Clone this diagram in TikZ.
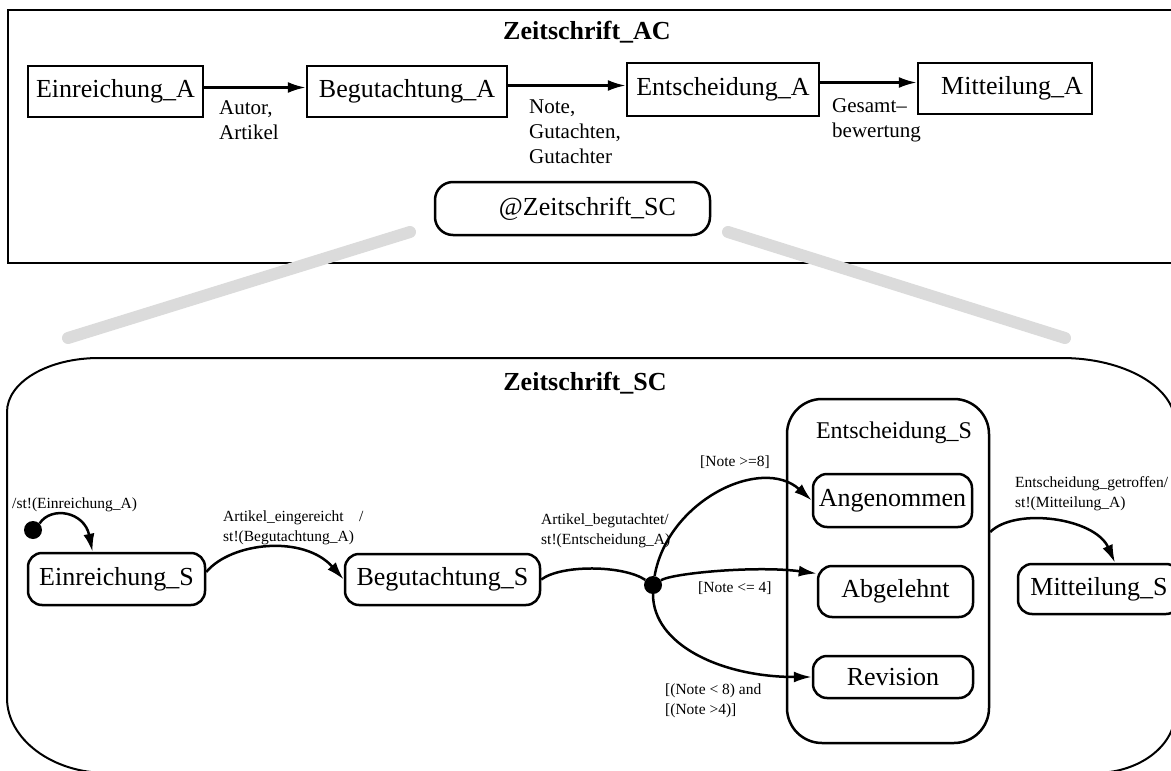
\documentclass[tikz,border=0pt]{standalone}
\usepackage{fontspec}
\setmainfont{Liberation Serif}
\usetikzlibrary{arrows.meta, positioning}
\newcommand{\nodesize}{\fontsize{26}{30}\selectfont}
\newcommand{\subsize}{\fontsize{24}{28}\selectfont}
\newcommand{\datasize}{\fontsize{21}{25}\selectfont}
\newcommand{\guardsize}{\fontsize{15.5}{19.5}\selectfont}

\begin{document}
\begin{tikzpicture}[x=1pt, y=-1pt,
  abox/.style={draw, line width=2.5pt, font=\nodesize, inner sep=0pt},
  sbox/.style={abox, rounded corners=14pt},
  ttl/.style={font=\nodesize\bfseries, inner sep=0pt},
  dlbl/.style={font=\datasize, inner sep=0pt, align=left},
  glbl/.style={font=\guardsize, inner sep=0pt, align=left},
  dot/.style={circle, fill, inner sep=0pt, minimum size=18pt},
  flow/.style={-{Latex[length=18pt, width=11pt]}, line width=2.5pt},
  plain/.style={line width=2.5pt},
  zoomline/.style={line width=12pt, black!14, line cap=round}
]
  \useasboundingbox (0,0) rectangle (1171,771);

  % activity chart
  \draw[line width=2.6pt] (8,10) rectangle (1180,263);
  \node[ttl] (titleAC) at (587,32) {Zeitschrift\_AC};

  \node[abox, minimum width=175pt, minimum height=51pt] (EinA) at (115.5,91.5) {Einreichung\_A};
  \node[abox, minimum width=200pt, minimum height=51pt] (BegA) at (407,91.5) {Begutachtung\_A};
  \node[abox, minimum width=192pt, minimum height=53pt] (EntA) at (723,89.5) {Entscheidung\_A};
  \node[abox, minimum width=174pt, minimum height=51pt] (MitA) at (1005,88.5) {\hspace*{14pt}Mitteilung\_A};

  \draw[flow] ([yshift=4pt]EinA.east) -- ([yshift=4pt]BegA.west);
  \draw[flow] ([yshift=6pt]BegA.east) -- ([yshift=4pt]EntA.west);
  \draw[flow] ([yshift=7pt]EntA.east) -- ([yshift=6pt]MitA.west);

  \node[dlbl, anchor=west] (dAutor) at (219,120.5) {Autor,\\Artikel};
  \node[dlbl, anchor=west] (dNote)  at (529,132) {Note,\\Gutachten,\\Gutachter};
  \node[dlbl, anchor=west] (dGes)   at (832,120) {Gesamt--\\bewertung};

  \node[sbox, minimum width=275pt, minimum height=53pt, rounded corners=18pt] (ZSC)
        at (572.5,208.5) {\hspace*{30pt}@Zeitschrift\_SC};

  % zoom lines
  \coordinate (zl1) at (410,232);
  \coordinate (zl2) at (68,338);
  \coordinate (zr1) at (728,232);
  \coordinate (zr2) at (1065,338);
  \draw[zoomline] (zl1) -- (zl2);
  \draw[zoomline] (zr1) -- (zr2);

  % statechart
  \draw[line width=2pt] (7,412) .. controls (7,382) and (48,358) .. (99,358)
        -- (1062,358) .. controls (1124,358) and (1175,387) .. (1175,423)
        -- (1175,713) .. controls (1175,746) and (1139,773) .. (1095,773)
        -- (107,773) .. controls (52,773) and (7,739) .. (7,698) -- cycle;
  \node[ttl] (titleSC) at (585,383) {Zeitschrift\_SC};

  \node[dot] (init) at (33,530) {};
  \node[sbox, minimum width=177pt, minimum height=52pt] (EinS) at (116.5,579) {Einreichung\_S};
  \node[sbox, minimum width=195pt, minimum height=51pt] (BegS) at (442.5,579.5) {Begutachtung\_S};
  \node[dot] (choice) at (653,585) {};

  \node[sbox, minimum width=202pt, minimum height=344pt, rounded corners=35pt] (EntS) at (888,571) {};
  \node[font=\subsize, inner sep=0pt] (EntSt) at (894,433) {Entscheidung\_S};
  \node[sbox, minimum width=159pt, minimum height=53pt] (Ang) at (892.5,500.5) {Angenommen};
  \node[sbox, minimum width=155pt, minimum height=51pt] (Abg) at (895.5,591.5) {Abgelehnt};
  \node[sbox, minimum width=160pt, minimum height=42pt] (Rev) at (893,677) {Revision};
  \node[sbox, minimum width=162pt, minimum height=50pt] (MitS) at (1099,589) {Mitteilung\_S};

  \draw[flow] (init.north east) .. controls +(12,-18) and +(-8,-40) .. ([xshift=-24pt]EinS.north);
  \draw[flow] ([yshift=7pt]EinS.east) .. controls +(25,-30) and +(-40,-45) .. (BegS.west);
  \draw[plain] (BegS.east) .. controls +(20,-15) and +(-30,-20) .. (choice);
  \draw[flow] (choice) .. controls +(15,-85) and +(-50,-45) .. (Ang.west);
  \draw[flow] (choice) .. controls +(20,-12) and +(-60,-8) .. ([yshift=18pt]Abg.west);
  \draw[flow] (choice) .. controls +(0,60) and +(-90,0) .. (Rev.west);
  \draw[flow] ([yshift=39pt]EntS.east) .. controls +(25,-25) and +(-20,-45) .. ([xshift=16pt]MitS.north);

  \node[glbl, anchor=west] (gInit) at (12,505) {/st!(Einreichung\_A)};
  \node[glbl, anchor=west] (gEin)  at (223,528) {Artikel\_eingereicht\quad/\\st!(Begutachtung\_A)};
  \node[glbl, anchor=west] (gBeg)  at (541,531) {Artikel\_begutachtet/\\st!(Entscheidung\_A)};
  \node[glbl, anchor=west] (gAng)  at (700,462) {[Note >=8]};
  \node[glbl, anchor=west] (gAbg)  at (698,588) {[Note <= 4]};
  \node[glbl, anchor=west] (gRev)  at (665,701) {[(Note < 8) and\\{}[(Note >4)]};
  \node[glbl, anchor=west] (gEnt)  at (1015,493.5) {Entscheidung\_getroffen/\\st!(Mitteilung\_A)};
\end{tikzpicture}
\end{document}
